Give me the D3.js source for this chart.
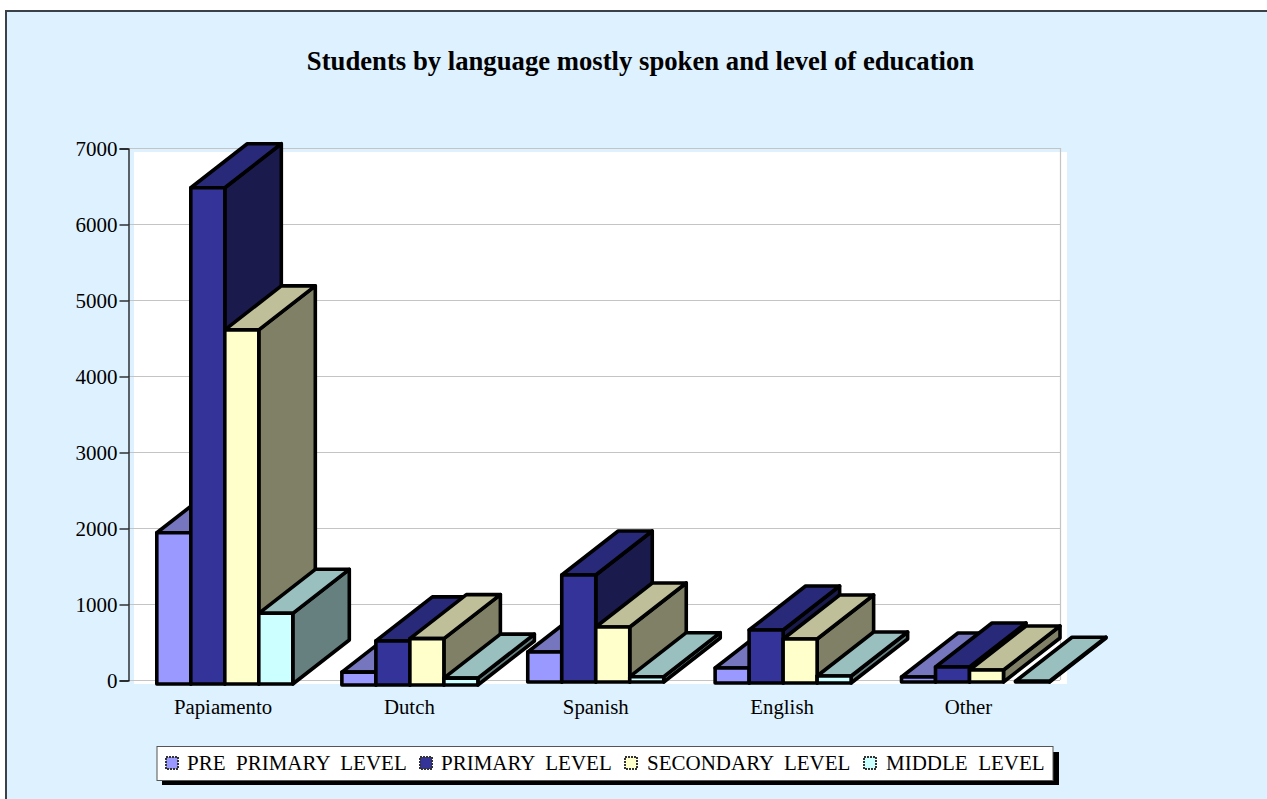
<!DOCTYPE html>
<html><head><meta charset="utf-8">
<script src="https://cdn.jsdelivr.net/npm/d3@7/dist/d3.min.js"></script>
<style>html,body{margin:0;padding:0;background:#fff;overflow:hidden}svg{display:block}text{font-family:"Liberation Serif",serif;fill:#000}</style>
</head><body><svg id="c" width="1267" height="799"></svg>
<script>
const categories = ["Papiamento","Dutch","Spanish","English","Other"];
const seriesNames = ["PRE  PRIMARY  LEVEL","PRIMARY  LEVEL","SECONDARY  LEVEL","MIDDLE  LEVEL"];
const prePrimary = [1990,170,395,197,66];
const primary = [6530,580,1408,697,197];
const secondary = [4660,610,724,579,158];
const middle = [930,90,70,92,10];
const yTicks = [0,1000,2000,3000,4000,5000,6000,7000];
const title = "Students by language mostly spoken and level of education";

const faceColors = ["#9999FF","#333399","#FFFFCC","#CCFFFF"];
const topColors  = ["#7676BF","#29297A","#BFBF99","#99BFBF"];
const sideColors = ["#4D4D80","#1A1A4D","#808066","#668080"];
const seriesValues = [prePrimary,primary,secondary,middle];

const svg = d3.select("#c");
svg.append("rect").attr("width",1267).attr("height",799).attr("fill","#fff");
svg.append("rect").attr("x",6).attr("y",11).attr("width",1280).attr("height",810)
  .attr("fill","#DEF1FF").attr("stroke","#3A4148").attr("stroke-width",2);

svg.append("text").attr("x",640.5).attr("y",70).attr("text-anchor","middle")
  .attr("font-size",26.7).attr("font-weight","bold").text(title);

const y = d3.scaleLinear().domain([0,7000]).range([680,148]);
const x = d3.scalePoint().domain(categories).range([223,968.5]);
const bx = d3.scaleBand().domain(d3.range(4)).range([-68,68]);

// plot area
svg.append("rect").attr("x",134).attr("y",152).attr("width",933).attr("height",532).attr("fill","#fff");
const gridG = svg.append("g");
gridG.selectAll("line").data(yTicks).join("line")
  .attr("x1",128).attr("x2",1060).attr("y1",d=>y(d)+.5).attr("y2",d=>y(d)+.5)
  .attr("stroke","#C4C4C4").attr("stroke-width",1.2);
svg.append("line").attr("x1",1060.5).attr("x2",1060.5).attr("y1",148).attr("y2",680).attr("stroke","#C4C4C4").attr("stroke-width",1.2);

// y axis
const ax = svg.append("g").attr("transform","translate(128.5,0.5)")
  .call(d3.axisLeft(y).tickValues(yTicks).tickFormat(d3.format("d")).tickSize(9).tickPadding(2));
ax.selectAll("path,line").attr("stroke","#000").attr("stroke-width",1.2);
ax.selectAll("text").attr("font-size",21).attr("font-family","Liberation Serif");

// x labels
svg.append("g").selectAll("text").data(categories).join("text")
  .attr("x",d=>x(d)).attr("y",714).attr("text-anchor","middle").attr("font-size",20.8).text(d=>d);

// 3D bars: painter order, left to right
const depthX = 56.5, depthY = -44, bw = 34;
const catBase = [4,5,2,3,2];
const catNudge = [1.8,0.5,0,1,1];
const lastBarNudge = [0,0,0,0,12];
const bars = [];
categories.forEach((c,ci)=>seriesValues.forEach((vals,si)=>{
  bars.push({ci,si,v:vals[ci],
    x0:x(c)+bx(si)+catNudge[ci]+(si===3?lastBarNudge[ci]:0),
    yT:y(vals[ci])+catBase[ci],yB:y(0)+catBase[ci]});
}));
const poly = a=>a.map(p=>p.join(",")).join(" ");
const g = svg.append("g").attr("stroke","#000").attr("stroke-width",3.6).attr("stroke-linejoin","round");
const bg = g.selectAll("g").data(bars).join("g");
bg.append("polygon").attr("fill",d=>sideColors[d.si])
  .attr("points",d=>poly([[d.x0+bw,d.yT],[d.x0+bw+depthX,d.yT+depthY],[d.x0+bw+depthX,d.yB+depthY],[d.x0+bw,d.yB]]));
bg.append("polygon").attr("fill",d=>topColors[d.si])
  .attr("points",d=>poly([[d.x0,d.yT],[d.x0+depthX,d.yT+depthY],[d.x0+bw+depthX,d.yT+depthY],[d.x0+bw,d.yT]]));
bg.append("rect").attr("fill",d=>faceColors[d.si])
  .attr("x",d=>d.x0).attr("y",d=>d.yT).attr("width",bw).attr("height",d=>d.yB-d.yT);

// legend
svg.append("rect").attr("x",162).attr("y",752).attr("width",897).attr("height",33).attr("fill","#000");
svg.append("rect").attr("x",157).attr("y",746.5).attr("width",896).attr("height",34).attr("fill","#fff").attr("stroke","#555").attr("stroke-width",1);
const swatchX = [166,420,625,864];
const textX = [187,441,647,886];
const lg = svg.append("g").selectAll("g").data(seriesNames).join("g");
lg.append("rect").attr("x",(d,i)=>swatchX[i]).attr("y",757).attr("width",12).attr("height",12)
  .attr("fill",(d,i)=>faceColors[i]).attr("stroke","#333").attr("stroke-width",2).attr("stroke-dasharray","2 1");
lg.append("text").attr("x",(d,i)=>textX[i]).attr("y",770).attr("font-size",21).attr("xml:space","preserve")
  .style("white-space","pre").text(d=>d);
</script></body></html>
